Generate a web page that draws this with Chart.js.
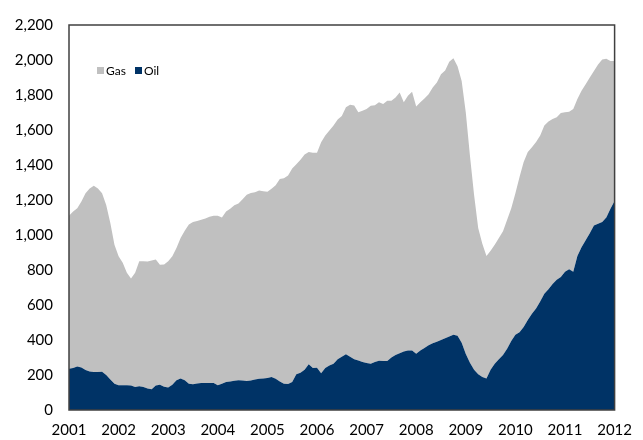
<!DOCTYPE html>
<html>
<head>
<meta charset="utf-8">
<script src="https://cdn.jsdelivr.net/npm/chart.js@4/dist/chart.umd.min.js"></script>
<style>
  html, body { margin: 0; padding: 0; background: #ffffff; }
  #wrap { position: relative; width: 643px; height: 440px; }
  #legend { position: absolute; left: 97px; top: 63px; font-family: Lato, "Open Sans", sans-serif; font-size: 12px; color: #000; display: flex; align-items: center; white-space: nowrap; }
  #legend .sw { display: inline-block; width: 7px; height: 7px; margin-right: 2px; }
  #legend .item { display: inline-flex; align-items: center; margin-right: 9px; }
</style>
</head>
<body>
<div id="wrap">
  <canvas id="c" width="643" height="440"></canvas>
  <div id="legend"></div>
</div>
<script>
// Monthly readings, Jan 2001 .. Jan 2012 (rig counts)
const startYear = 2001;
const endYear = 2012;
const yearTicks = [2001, 2002, 2003, 2004, 2005, 2006, 2007, 2008, 2009, 2010, 2011, 2012];

const oil = [
  236, 240, 249, 243, 228, 220, 217, 217, 218, 200, 175, 150,
  142, 142, 142, 140, 132, 136, 132, 123, 118, 140, 145, 133,
  129, 145, 170, 180, 170, 150, 147, 152, 155, 155, 155, 155,
  142, 150, 160, 163, 167, 170, 168, 166, 168, 175, 178, 180,
  183, 189, 178, 163, 150, 148, 160, 205, 213, 230, 262, 240,
  242, 210, 240, 255, 265, 290, 305, 318, 305, 290, 283, 275,
  268, 265, 275, 282, 280, 280, 300, 315, 325, 335, 340, 340,
  322, 340, 355, 370, 382, 390, 400, 410, 420, 430, 425, 385,
  320, 270, 230, 205, 188, 180, 230, 265, 290, 315, 350, 395,
  430, 445, 475, 515, 550, 580, 620, 665, 690, 720, 745, 760,
  790, 805, 790, 880, 930, 970, 1010, 1055, 1065, 1075, 1100, 1150,
  1195
];

const gas = [
  874, 894, 904, 948, 1010, 1046, 1064, 1049, 1020, 972, 893, 795,
  737, 699, 642, 612, 652, 714, 718, 725, 737, 720, 685, 699,
  721, 734, 756, 803, 855, 910, 928, 928, 932, 940, 950, 955,
  968, 950, 975, 987, 1003, 1010, 1037, 1064, 1072, 1070, 1077, 1070,
  1064, 1076, 1107, 1157, 1175, 1192, 1220, 1200, 1217, 1230, 1212, 1230,
  1228, 1320, 1329, 1342, 1361, 1370, 1375, 1412, 1440, 1450, 1418, 1435,
  1452, 1474, 1467, 1476, 1468, 1487, 1467, 1471, 1489, 1423, 1456, 1478,
  1413, 1418, 1425, 1435, 1461, 1481, 1518, 1530, 1570, 1580, 1540, 1495,
  1380, 1185, 1000, 835, 762, 700, 680, 680, 693, 706, 737, 758,
  808, 887, 942, 959, 952, 951, 949, 961, 958, 943, 928, 937,
  911, 900, 930, 897, 894, 892, 890, 882, 910, 928, 907, 844,
  800
];

const seriesNames = ['Gas', 'Oil'];
const colGas = '#c0c0c0';
const colOil = '#003366';

const months = oil.map((_, i) => startYear + i / 12);
const oilPts = oil.map((v, i) => ({ x: months[i], y: v }));
const gasPts = gas.map((v, i) => ({ x: months[i], y: v }));

const framePlugin = {
  id: 'frame',
  afterDatasetsDraw(chart) {
    const a = chart.chartArea, ctx = chart.ctx;
    ctx.save();
    ctx.strokeStyle = '#404040';
    ctx.lineWidth = 1.5;
    ctx.strokeRect(a.left, a.top, a.right - a.left, a.bottom - a.top);
    ctx.restore();
  }
};

const tickFont = { family: 'Lato, "Open Sans", sans-serif', size: 15 };

new Chart(document.getElementById('c'), {
  type: 'line',
  data: {
    datasets: [
      { label: seriesNames[1], data: oilPts, backgroundColor: colOil, borderColor: colOil, borderWidth: 0, pointRadius: 0, fill: 'origin', tension: 0 },
      { label: seriesNames[0], data: gasPts, backgroundColor: colGas, borderColor: colGas, borderWidth: 0, pointRadius: 0, fill: '-1', tension: 0 }
    ]
  },
  options: {
    responsive: false,
    animation: false,
    layout: { padding: { top: 21, right: 15, left: 0, bottom: 0 } },
    plugins: { legend: { display: false }, tooltip: { enabled: false } },
    scales: {
      x: {
        type: 'linear',
        min: startYear,
        max: endYear,
        afterBuildTicks: (s) => { s.ticks = yearTicks.map(v => ({ value: v })); },
        afterFit: (s) => { s.height = 30; },
        grid: { display: false, drawTicks: false },
        border: { display: false },
        ticks: { padding: 11, color: '#000', font: tickFont, maxRotation: 0, autoSkip: false, callback: (v) => String(v) }
      },
      y: {
        stacked: true,
        min: 0,
        max: 2200,
        afterFit: (s) => { s.width = 69; },
        grid: { display: false, drawTicks: false },
        border: { display: false },
        ticks: { stepSize: 200, padding: 16, color: '#000', font: tickFont, callback: (v) => v.toLocaleString('en-US') }
      }
    }
  },
  plugins: [framePlugin]
});

const lg = document.getElementById('legend');
[[seriesNames[0], colGas], [seriesNames[1], colOil]].forEach(([name, col]) => {
  const it = document.createElement('span');
  it.className = 'item';
  const sw = document.createElement('span');
  sw.className = 'sw';
  sw.style.background = col;
  const tx = document.createElement('span');
  tx.textContent = name;
  it.appendChild(sw);
  it.appendChild(tx);
  lg.appendChild(it);
});
</script>
</body>
</html>
